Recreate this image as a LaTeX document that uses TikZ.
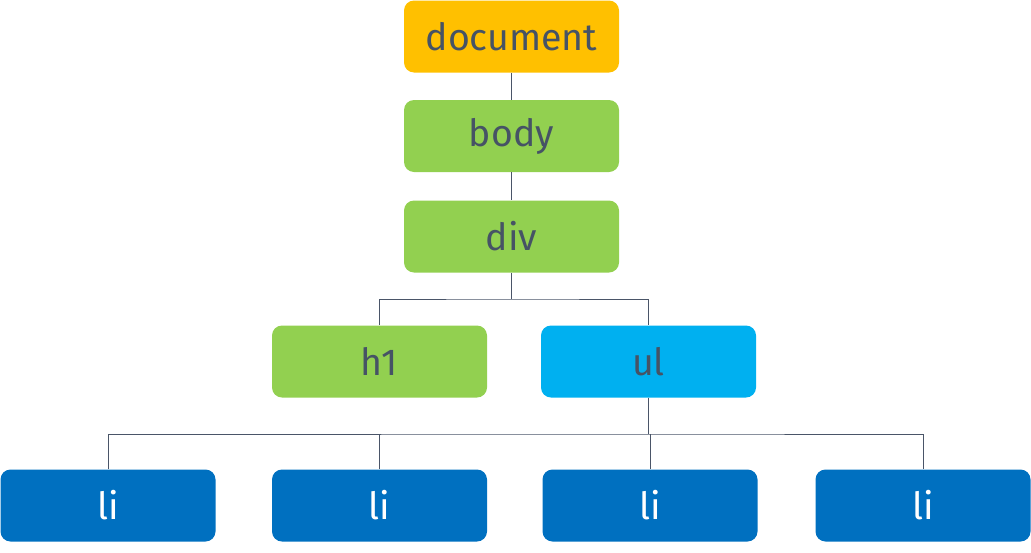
\documentclass[tikz,border=0pt]{standalone}
\usepackage{fontspec}
\setmainfont{Fira Sans}
\definecolor{cOrange}{HTML}{FFC000}
\definecolor{cGreen}{HTML}{92D050}
\definecolor{cLight}{HTML}{00B0F0}
\definecolor{cDark}{HTML}{0070C0}
\definecolor{cText}{HTML}{465365}
\definecolor{cLine}{HTML}{4A5568}
\begin{document}
\begin{tikzpicture}[x=1pt,y=1pt,
  box/.style={rounded corners=10pt, minimum width=215pt, minimum height=72pt, inner sep=0pt, font=\fontsize{37.5}{44}\selectfont, text=cText},
  conn/.style={draw=cLine, line width=0.9pt}]
\useasboundingbox (0,0) rectangle (1031,-552);
\node[box, fill=cOrange] (doc) at (511.5,-36.5) {document};
\node[box, fill=cGreen] (body) at (511.5,-136) {body};
\node[box, fill=cGreen] (div) at (511.5,-236.5) {div};
\node[box, fill=cGreen] (h1) at (379.5,-361.5) {h1};
\node[box, fill=cLight] (ul) at (648.5,-361.5) {ul};
\node[box, fill=cDark, text=white] (li1) at (108,-505.5) {li};
\node[box, fill=cDark, text=white] (li2) at (379.5,-505.5) {li};
\node[box, fill=cDark, text=white] (li3) at (650,-505.5) {li};
\node[box, fill=cDark, text=white] (li4) at (923,-505.5) {li};
\coordinate (j1) at (511.5,-299);
\coordinate (j2) at (648.5,-434);
\draw[conn] (doc.south) -- (body.north);
\draw[conn] (body.south) -- (div.north);
\draw[conn] (div.south) -- (j1);
\draw[conn] (h1.north) |- (j1) -| (ul.north);
\draw[conn] (ul.south) -- (j2);
\draw[conn] (li1.north) |- (j2) -| (li4.north);
\draw[conn] (li2.north) -- (li2.north |- j2);
\draw[conn] (li3.north) -- (li3.north |- j2);
\end{tikzpicture}
\end{document}
